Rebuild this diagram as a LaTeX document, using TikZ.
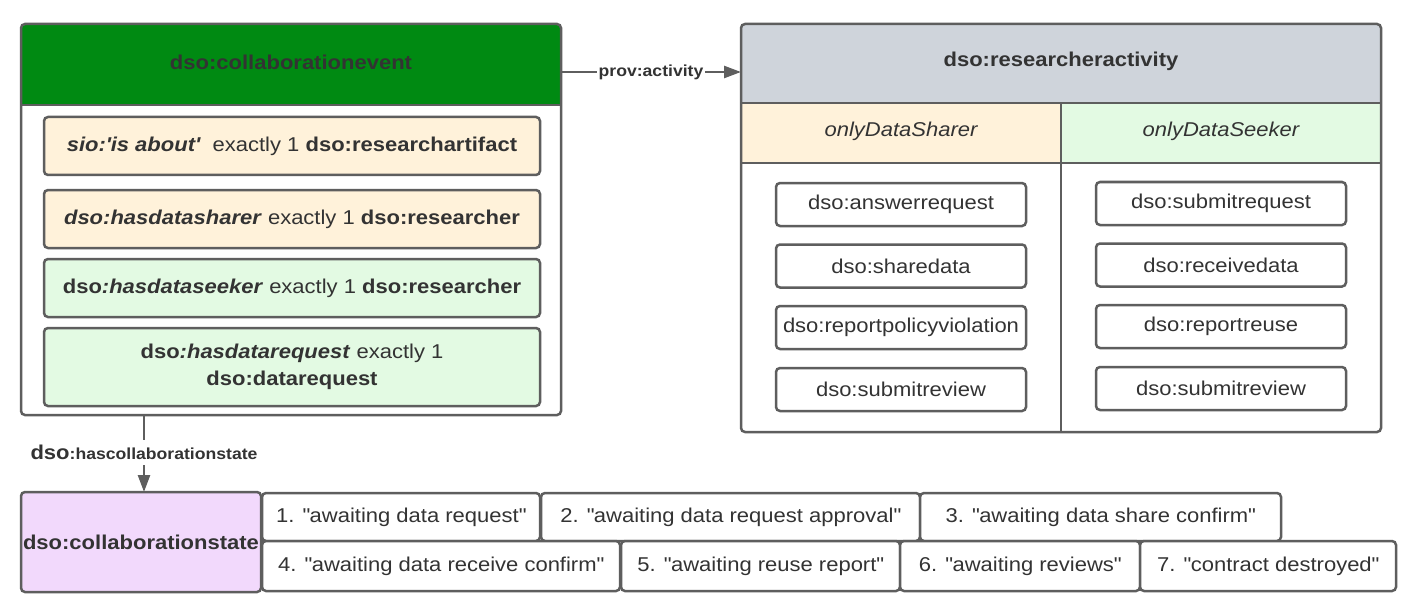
\documentclass[tikz,border=0pt]{standalone}
\usepackage{fontspec}
\setmainfont{Liberation Sans}[FakeStretch=1.1]
\usetikzlibrary{arrows.meta}
\definecolor{bd}{HTML}{5E5E5E}
\definecolor{tx}{HTML}{333333}
\definecolor{cegreen}{HTML}{008A12}
\definecolor{hdgray}{HTML}{CFD4DB}
\definecolor{cream}{HTML}{FFF2DA}
\definecolor{lgreen}{HTML}{E3FAE3}
\definecolor{lpurple}{HTML}{F2D9FC}
\newcommand\qd{\textquotedbl}
\tikzset{
  frame/.style={draw=bd, line width=2.5pt, rounded corners=4pt, inner sep=0pt, outer sep=0pt},
  cbox/.style={frame, text=tx, align=center, font=\fontsize{20}{27}\selectfont},
  hdr/.style={text=tx, font=\fontsize{20}{24}\selectfont\bfseries, inner sep=0pt},
  sub/.style={text=tx, font=\fontsize{20}{24}\selectfont\itshape, inner sep=0pt},
  conn/.style={draw=bd, line width=2.5pt, -{Triangle[length=17pt,width=12pt]}},
  lbl/.style={fill=white, text=tx, inner sep=1.5pt, font=\fontsize{16}{18}\selectfont\bfseries},
}
\begin{document}
\begin{tikzpicture}[x=1pt,y=-1pt]
\useasboundingbox[fill=white] (0,0) rectangle (1422,615);
% ---------- left box ----------
\fill[white, rounded corners=4pt] (21,24) rectangle (561,415);
\begin{scope}
  \clip[rounded corners=4pt] (21,24) rectangle (561,415);
  \fill[cegreen] (21,24) rectangle (561,105);
\end{scope}
\node[frame, minimum width=540pt, minimum height=391pt] (ce) at (291,219.5) {};
\draw[bd, line width=2.5pt] (21,105) -- (561,105);
\node[hdr] (ceh) at (291,62) {dso:collaborationevent};
\node[cbox, fill=cream, minimum width=496pt, minimum height=58pt] (r1) at (292,146)
  {\textbf{\textit{sio:\textquotesingle is about\textquotesingle}}\ \ exactly 1 \textbf{dso:researchartifact}};
\node[cbox, fill=cream, minimum width=496pt, minimum height=58pt] (r2) at (292,219)
  {\textbf{\textit{dso:hasdatasharer}} exactly 1 \textbf{dso:researcher}};
\node[cbox, fill=lgreen, minimum width=496pt, minimum height=58pt] (r3) at (292,288)
  {\textbf{dso\textit{:hasdataseeker}} exactly 1 \textbf{dso:researcher}};
\node[cbox, fill=lgreen, minimum width=496pt, minimum height=78pt] (r4) at (292,367)
  {\textbf{dso\textit{:hasdatarequest}} exactly 1\\\textbf{dso:datarequest}};
% ---------- right box ----------
\fill[white, rounded corners=4pt] (741,24) rectangle (1381,432);
\begin{scope}
  \clip[rounded corners=4pt] (741,24) rectangle (1381,432);
  \fill[hdgray] (741,24) rectangle (1381,103);
  \fill[cream] (741,103) rectangle (1061,163);
  \fill[lgreen] (1061,103) rectangle (1381,163);
\end{scope}
\node[frame, minimum width=640pt, minimum height=408pt] (ra) at (1061,228) {};
\draw[bd, line width=2.5pt] (741,103) -- (1381,103);
\draw[bd, line width=2.5pt] (741,163) -- (1381,163);
\draw[bd, line width=2.5pt] (1061,103) -- (1061,432);
\node[hdr] (rah) at (1061,61) {dso:researcheractivity};
\node[sub] (shr) at (901,131) {onlyDataSharer};
\node[sub] (skr) at (1221,131) {onlyDataSeeker};
\node[cbox, fill=white, minimum width=250pt, minimum height=43pt] (a1) at (901,204.5) {dso:answerrequest};
\node[cbox, fill=white, minimum width=250pt, minimum height=43pt] (a2) at (901,266) {dso:sharedata};
\node[cbox, fill=white, minimum width=250pt, minimum height=43pt] (a3) at (901,327.5) {dso:reportpolicyviolation};
\node[cbox, fill=white, minimum width=250pt, minimum height=43pt] (a4) at (901,389.5) {dso:submitreview};
\node[cbox, fill=white, minimum width=250pt, minimum height=43pt] (b1) at (1221,203.5) {dso:submitrequest};
\node[cbox, fill=white, minimum width=250pt, minimum height=43pt] (b2) at (1221,265) {dso:receivedata};
\node[cbox, fill=white, minimum width=250pt, minimum height=43pt] (b3) at (1221,326.5) {dso:reportreuse};
\node[cbox, fill=white, minimum width=250pt, minimum height=43pt] (b4) at (1221,388.5) {dso:submitreview};
% ---------- bottom ----------
\node[cbox, fill=lpurple, minimum width=240pt, minimum height=100pt, font=\fontsize{20}{24}\selectfont\bfseries] (cs) at (141,542) {dso:collaborationstate};
\node[cbox, fill=white, minimum width=278pt, minimum height=48pt] (s1) at (401,517) {1. \qd awaiting data request\qd};
\node[cbox, fill=white, minimum width=379pt, minimum height=48pt] (s2) at (730.5,517) {2. \qd awaiting data request approval\qd};
\node[cbox, fill=white, minimum width=361pt, minimum height=48pt] (s3) at (1100.5,517) {3. \qd awaiting data share confirm\qd};
\node[cbox, fill=white, minimum width=358pt, minimum height=50pt] (s4) at (441,566) {4. \qd awaiting data receive confirm\qd};
\node[cbox, fill=white, minimum width=279pt, minimum height=50pt] (s5) at (760.5,566) {5. \qd awaiting reuse report\qd};
\node[cbox, fill=white, minimum width=240pt, minimum height=50pt] (s6) at (1020,566) {6. \qd awaiting reviews\qd};
\node[cbox, fill=white, minimum width=256pt, minimum height=50pt] (s7) at (1268,566) {7. \qd contract destroyed\qd};
% ---------- connectors ----------
\coordinate (pa) at (561,72);
\draw[conn] (pa) -- node[lbl] (plbl) {prov:activity} (ra.west |- pa);
\coordinate (hx) at (144,0);
\draw[conn] (ce.south -| hx) -- node[pos=0.49, fill=white, text=tx, inner sep=0pt, minimum height=25pt] (hlbl)
  {\fontsize{20}{24}\selectfont\bfseries dso\fontsize{16}{18}\selectfont:hascollaborationstate} (cs.north -| hx);
\end{tikzpicture}
\end{document}
